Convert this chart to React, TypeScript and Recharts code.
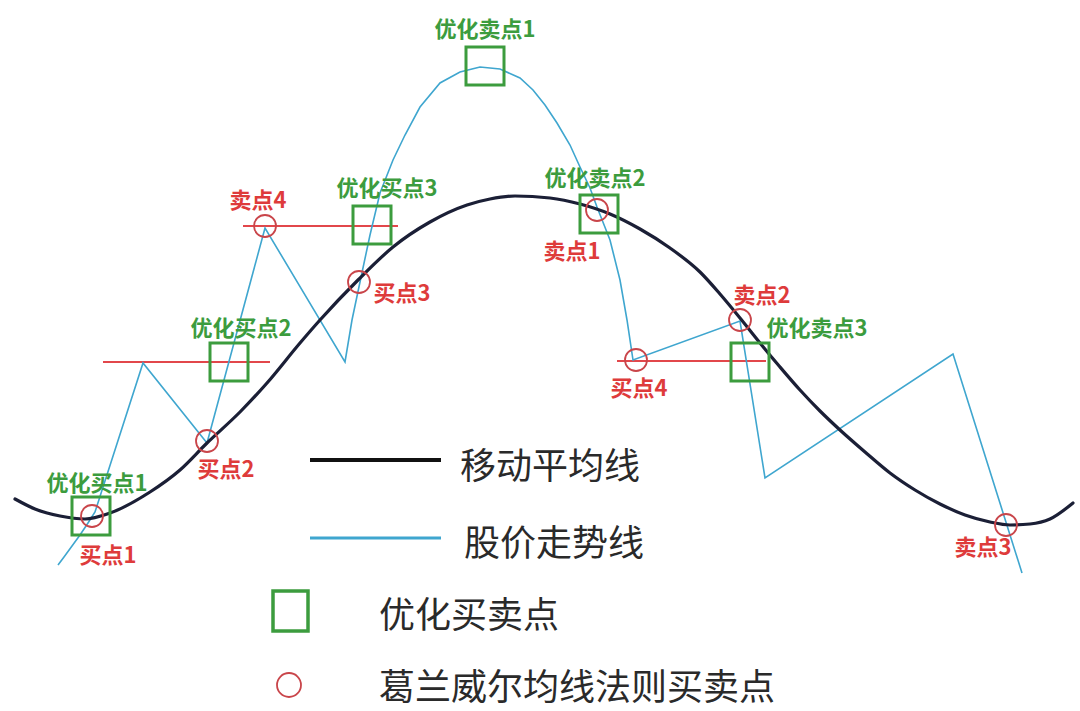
import { ComposedChart, Line, Scatter, XAxis, YAxis } from "recharts";

// 移动平均线 (x position, level)
const maX = [15, 35, 60, 85, 110, 150, 180, 207, 240, 267, 300, 320, 358, 393, 430, 467, 490, 515, 550, 580, 610, 640, 670, 700, 720, 740, 760, 780, 800, 820, 840, 865, 890, 915, 940, 965, 990, 1010, 1030, 1050, 1073];
const maVal = [212, 202, 195, 192, 198, 219, 241, 268, 299, 328, 368, 391, 431, 464, 489, 506, 512, 515, 513, 507, 497, 482, 463, 439, 417, 393, 368, 344, 321, 300, 281, 259, 238, 221, 207, 196, 189, 186, 187, 192, 208];

// 股价走势线
const priceX = [58, 64, 72, 80, 88, 95, 143, 207, 265, 345, 352, 360, 370, 380, 393, 405, 420, 440, 460, 480, 500, 520, 533, 545, 557, 570, 580, 590, 597, 610, 620, 627, 633, 740, 765, 953, 1022];
const priceVal = [146, 154, 165, 176, 188, 199, 348, 268, 483, 349, 391, 429, 476, 518, 551, 576, 604, 628, 639, 644, 642, 633, 621, 606, 588, 566, 544, 523, 504, 471, 431, 391, 351, 390, 233, 357, 138];

// 红色水平线
const hLine1 = [{ x: 103, y: 349 }, { x: 270, y: 349 }];
const hLine2 = [{ x: 243, y: 485 }, { x: 398, y: 485 }];
const hLine3 = [{ x: 617, y: 350 }, { x: 766, y: 350 }];

// 优化买卖点
const optX = [91, 229, 372, 485, 599, 750];
const optVal = [195, 349, 486, 645, 497, 349];

// 葛兰威尔买卖点
const granX = [92, 207, 265, 359, 597, 740, 636, 1006];
const granVal = [195, 270, 485, 429, 501, 391, 351, 186];

const greenText = ["优化买点1", "优化买点2", "优化买点3", "优化卖点1", "优化卖点2", "优化卖点3"];
const greenX = [97, 241, 387, 485, 595, 817];
const greenVal = [230, 385, 525, 684, 535, 385];

const redText = ["买点1", "买点2", "卖点4", "买点3", "卖点1", "卖点2", "买点4", "卖点3"];
const redX = [108, 226, 258, 402, 572, 762, 639, 983];
const redVal = [158, 244, 513, 420, 462, 418, 325, 166];

const GREEN = "#3c9c3e";
const RED = "#de3b3b";
const CIRCLE = "#c9454a";
const BLUE = "#3fa6cf";
const NAVY = "#1b1f36";

const maData = maX.map((x, i) => ({ x, y: maVal[i] }));
const priceData = priceX.map((x, i) => ({ x, y: priceVal[i] }));
const optData = optX.map((x, i) => ({ x, y: optVal[i] }));
const granData = granX.map((x, i) => ({ x, y: granVal[i] }));
const greenData = greenText.map((t, i) => ({ x: greenX[i], y: greenVal[i], t }));
const redData = redText.map((t, i) => ({ x: redX[i], y: redVal[i], t }));

const Square = (p: any) => (
  <rect x={p.cx - 19} y={p.cy - 19} width={38} height={38} fill="none" stroke={GREEN} strokeWidth={3} />
);
const Ring = (p: any) => (
  <circle cx={p.cx} cy={p.cy} r={11} fill="none" stroke={CIRCLE} strokeWidth={1.8} />
);
const makeText = (color: string) => (p: any) => (
  <text x={p.cx} y={p.cy} fill={color} fontSize={22} fontWeight={700} textAnchor="middle" dominantBaseline="central"
    fontFamily="'Noto Sans CJK SC', sans-serif">
    {p.payload.t}
  </text>
);

const legendFont = { fontFamily: "'Noto Sans CJK SC', sans-serif", fontSize: 36, color: "#2a2a2a", fontWeight: 400 } as const;

export default function App() {
  return (
    <div style={{ position: "relative", width: 1080, height: 711, background: "#fff" }}>
      <style>{`body{margin:0}`}</style>
      <ComposedChart width={1080} height={711} margin={{ top: 0, right: 0, bottom: 0, left: 0 }}>
        <XAxis type="number" dataKey="x" domain={[0, 1080]} hide />
        <YAxis type="number" dataKey="y" domain={[0, 711]} hide />
        <Line data={hLine1} dataKey="y" stroke="#e2474b" strokeWidth={2} dot={false} activeDot={false} isAnimationActive={false} />
        <Line data={hLine2} dataKey="y" stroke="#e2474b" strokeWidth={2} dot={false} activeDot={false} isAnimationActive={false} />
        <Line data={hLine3} dataKey="y" stroke="#e2474b" strokeWidth={2} dot={false} activeDot={false} isAnimationActive={false} />
        <Line data={priceData} dataKey="y" type="linear" stroke={BLUE} strokeWidth={1.6} dot={false} activeDot={false} isAnimationActive={false} />
        <Line data={maData} dataKey="y" type="monotone" stroke={NAVY} strokeWidth={3.2} strokeLinecap="round" dot={false} activeDot={false} isAnimationActive={false} />
        <Scatter data={optData} dataKey="y" shape={Square} isAnimationActive={false} />
        <Scatter data={granData} dataKey="y" shape={Ring} isAnimationActive={false} />
        <Scatter data={greenData} dataKey="y" shape={makeText(GREEN)} isAnimationActive={false} />
        <Scatter data={redData} dataKey="y" shape={makeText(RED)} isAnimationActive={false} />
      </ComposedChart>
      <div style={{ position: "absolute", left: 0, top: 0, width: 1080, height: 711, pointerEvents: "none" }}>
        <svg width={1080} height={711} style={{ position: "absolute", left: 0, top: 0 }}>
          <line x1={310} y1={460} x2={441} y2={460} stroke="#111" strokeWidth={4} />
          <line x1={310} y1={538} x2={441} y2={538} stroke={BLUE} strokeWidth={3} />
          <rect x={273} y={591} width={35} height={40} fill="none" stroke={GREEN} strokeWidth={3.5} />
          <circle cx={289} cy={685} r={12} fill="none" stroke={CIRCLE} strokeWidth={1.8} />
        </svg>
        <div style={{ ...legendFont, position: "absolute", left: 460, top: 463, transform: "translateY(-50%)", lineHeight: 1 }}>移动平均线</div>
        <div style={{ ...legendFont, position: "absolute", left: 464, top: 540, transform: "translateY(-50%)", lineHeight: 1 }}>股价走势线</div>
        <div style={{ ...legendFont, position: "absolute", left: 379, top: 612, transform: "translateY(-50%)", lineHeight: 1 }}>优化买卖点</div>
        <div style={{ ...legendFont, position: "absolute", left: 379, top: 684, transform: "translateY(-50%)", lineHeight: 1 }}>葛兰威尔均线法则买卖点</div>
      </div>
    </div>
  );
}
